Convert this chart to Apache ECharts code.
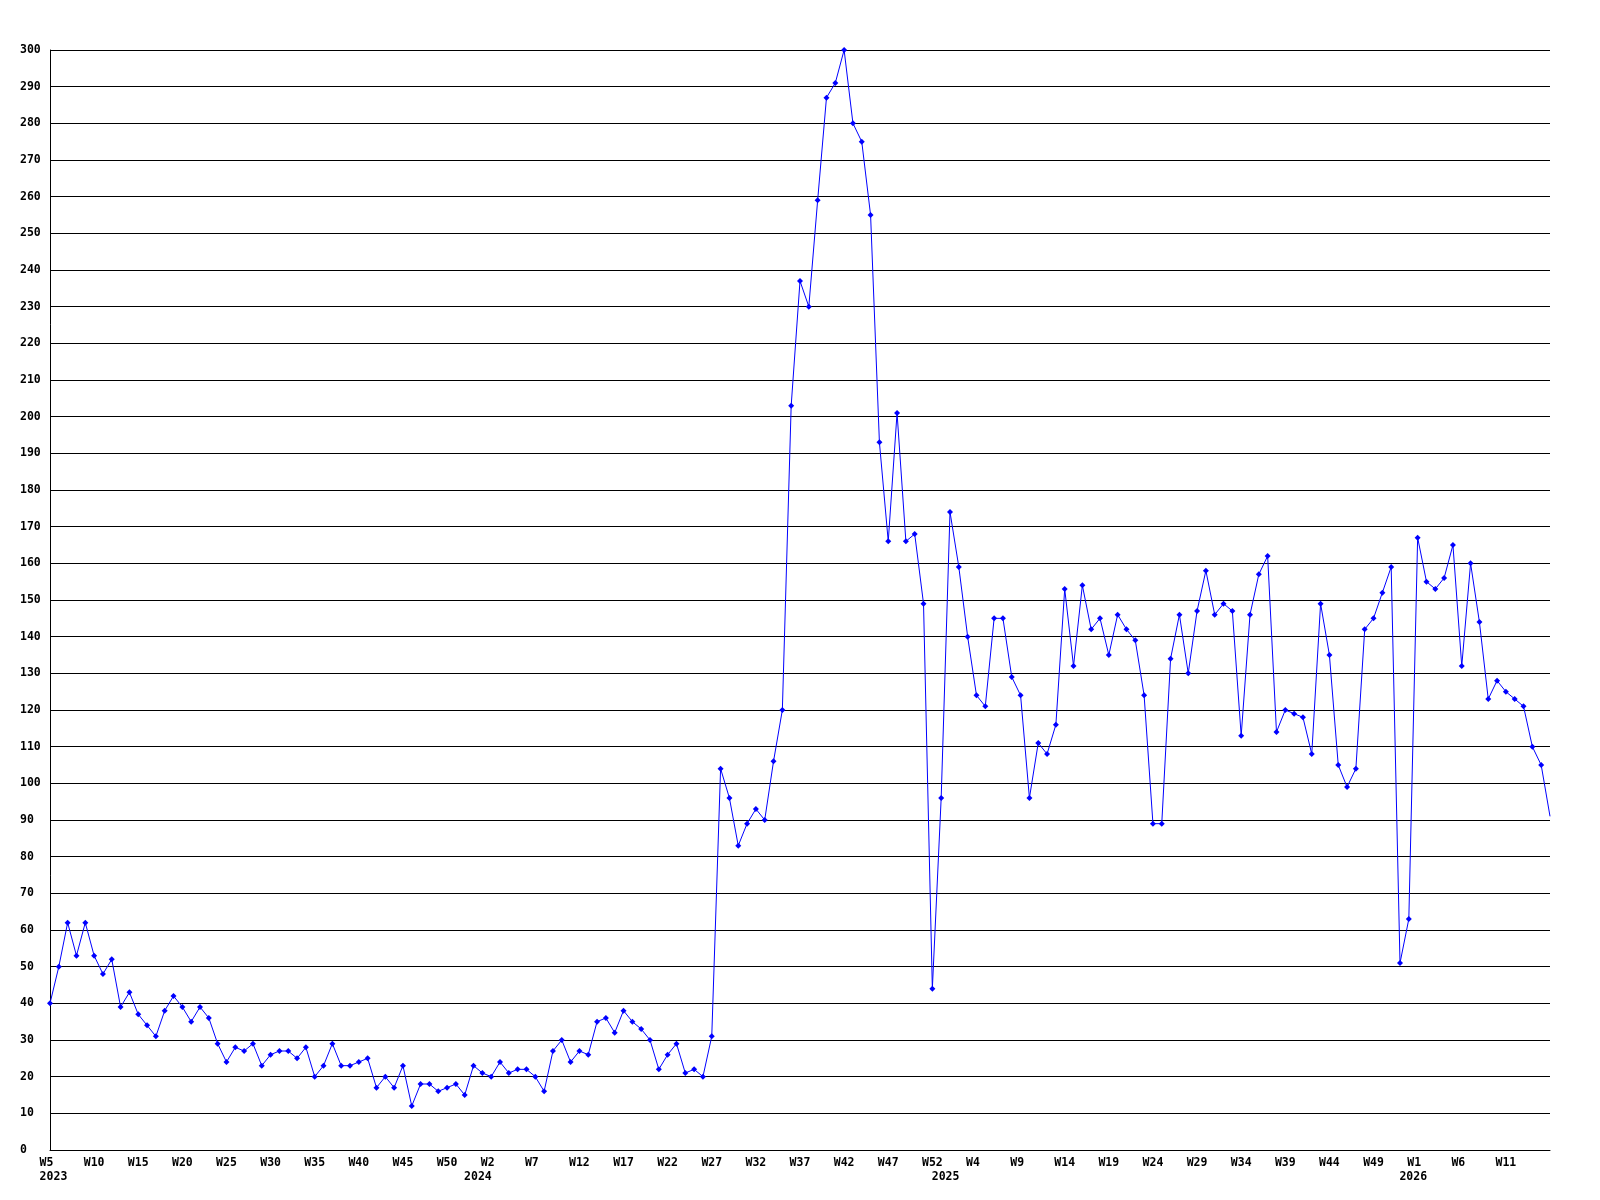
<!DOCTYPE html>
<html><head><meta charset="utf-8">
<script src="https://cdn.jsdelivr.net/npm/echarts@6/dist/echarts.min.js"></script>
<style>html,body{margin:0;padding:0;background:#fff}#c{width:1600px;height:1200px}</style>
</head><body><div id="c"></div>
<script>
// Weekly values, 2023 W5 .. 2026 W16
const years = [2023, 2024, 2025, 2026];
const firstWeek = [5, 1, 1, 1];
const lastWeek = [53, 53, 53, 16];
const values = [
  40,50,62,53,62,53,48,52,39,43,37,34,31,38,42,39,35,39,36,29,24,28,27,29,23,26,27,27,25,28,20,
  23,29,23,23,24,25,17,20,17,23,12,18,18,16,17,18,15,23,21,20,24,21,22,22,20,16,27,30,24,27,26,35,
  36,32,38,35,33,30,22,26,29,21,22,20,31,
  104,96,83,89,93,90,106,120,
  203,237,230,259,287,291,300,280,275,255,
  193,166,201,166,168,149,
  44,96,174,159,140,124,121,145,145,129,124,96,111,108,116,153,132,154,142,145,135,146,
  142,139,124,89,89,134,146,130,147,158,146,149,147,113,146,157,162,114,
  120,119,118,108,149,135,105,99,104,142,145,152,159,51,63,167,155,153,156,165,132,160,144,123,128,125,123,121,110,105,91
];
const yMin = 0, yMax = 300, yStep = 10;
const labelEvery = 5;

const categories = [];
const yearOf = [];
years.forEach((y, i) => {
  for (let w = firstWeek[i]; w <= lastWeek[i]; w++) { categories.push('W' + w); yearOf.push(y); }
});
const yearLabelPos = {};
years.forEach((y, i) => {
  const idx = yearOf.indexOf(y);
  if (i === 0) yearLabelPos[idx] = ' ' + y; else yearLabelPos[idx - 0.5] = String(y);
});
const lastIdx = categories.length - 1;

const FONT = { fontFamily: 'DejaVu Sans Mono', fontWeight: 'bold', fontSize: 11.5, color: '#000' };
const chart = echarts.init(document.getElementById('c'), null, { renderer: 'canvas' });
chart.setOption({
  animation: false,
  backgroundColor: '#fff',
  grid: { left: 50, right: 50, top: 50, bottom: 50, containLabel: false },
  xAxis: [{
    type: 'category', data: categories, boundaryGap: false, position: 'bottom',
    axisLine: { show: true, lineStyle: { color: '#000', width: 1 } },
    axisTick: { show: false },
    splitLine: { show: false },
    axisLabel: Object.assign({
      interval: (idx) => idx % labelEvery === 0 && idx < lastIdx,
      margin: 7, align: 'center',
      formatter: v => v.length < 3 ? v + ' ' : v }, FONT)
  }, {
    type: 'value', min: 0, max: lastIdx, interval: 0.5, position: 'bottom',
    axisLine: { show: false }, axisTick: { show: false }, splitLine: { show: false },
    axisLabel: Object.assign({ margin: 21, align: 'center', showMinLabel: true, showMaxLabel: true,
      formatter: v => (yearLabelPos[v] !== undefined ? yearLabelPos[v] : '') }, FONT)
  }],
  yAxis: {
    type: 'value', min: yMin, max: yMax, interval: yStep,
    axisLine: { show: true, lineStyle: { color: '#000', width: 1 } },
    axisTick: { show: false },
    splitLine: { show: true, lineStyle: { color: '#000', width: 1 } },
    axisLabel: Object.assign({ align: 'left', margin: 30 }, FONT)
  },
  series: [{
    type: 'line', xAxisIndex: 0,
    data: values.map((v, i) => i === values.length - 1 ? { value: v, symbol: 'none' } : v),
    symbol: 'diamond', symbolSize: 6, showAllSymbol: true,
    lineStyle: { color: '#0000ff', width: 1 },
    itemStyle: { color: '#0000ff' },
    emphasis: { disabled: true }
  }]
});
</script></body></html>
